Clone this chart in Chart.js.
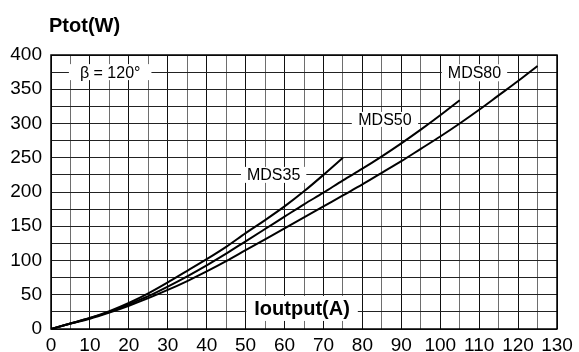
<!DOCTYPE html>
<html><head><meta charset="utf-8">
<script src="https://cdn.jsdelivr.net/npm/chart.js@4.4.1/dist/chart.umd.min.js"></script>
<style>html,body{margin:0;padding:0;background:#fff}canvas{display:block}</style>
</head><body>
<canvas id="c" width="579" height="352"></canvas>
<script>
// ---- data ----
const currentA = [0,5,10,15,20,25,30,35,40,45,50,55,60,65,70,75,80,85,90,95,100,105,110,115,120,125];
const seriesNames = ['MDS35','MDS50','MDS80'];
const mds35 = [0,8,16,26,38,52,68,85,102,120,140,159,179,201,225,250];
const mds50 = [0,8,16,25,36,48,62,77,93,110,128,146,164,182,199,217,234,252,271,291,312,334];
const mds80 = [0,8,15,24,34,45,57,70,84,99,115,131,147,163,179,195,211,228,245,263,281,300,320,341,362,384];
const xTickLabels = [0,10,20,30,40,50,60,70,80,90,100,110,120,130];
const yTickLabels = [0,50,100,150,200,250,300,350,400];
const yTitle = 'Ptot(W)';
const xTitle = 'Ioutput(A)';
const angleNote = 'β = 120°';

const FONT = '"Liberation Sans", Arial, Helvetica, sans-serif';
Chart.defaults.font.family = FONT;
Chart.defaults.color = '#000';

function pts(vals){ return vals.map((v,i)=>({x: currentA[i], y: v})); }

// label placements (data coordinates)
const notes = [
  {text: angleNote, x: 15.2, y: 375, h: 16, padX: 11, font: '16px ' + FONT},
  {text: seriesNames[2], x: 108.8, y: 374, h: 17, padX: 6, font: '16px ' + FONT},
  {text: seriesNames[1], x: 85.8, y: 306, h: 15, padX: 6.5, font: '16px ' + FONT},
  {text: seriesNames[0], x: 57.2, y: 225, h: 16, padX: 6, font: '16px ' + FONT},
  {text: xTitle, x: 64.5, y: 30, h: 25, padX: 8, font: 'bold 20px ' + FONT}
];

const overlay = {
  id: 'overlay',
  afterDatasetsDraw(chart){
    const {ctx, chartArea: a, scales: {x, y}} = chart;
    ctx.save();
    notes.forEach(n => {
      ctx.font = n.font;
      const w = ctx.measureText(n.text).width;
      const cx = x.getPixelForValue(n.x), cy = y.getPixelForValue(n.y);
      ctx.fillStyle = '#fff';
      ctx.fillRect(cx - w/2 - n.padX, cy - n.h/2, w + 2*n.padX, n.h);
      ctx.fillStyle = '#000';
      ctx.textAlign = 'center';
      ctx.textBaseline = 'middle';
      ctx.fillText(n.text, cx, cy + 1);
    });
    ctx.strokeStyle = '#000';
    ctx.lineWidth = 1.5;
    ctx.strokeRect(a.left, a.top, a.right - a.left, a.bottom - a.top);
    ctx.font = 'bold 20px ' + FONT;
    ctx.textAlign = 'left';
    ctx.textBaseline = 'alphabetic';
    ctx.fillStyle = '#000';
    ctx.fillText(yTitle, a.left - 2, a.top - 23);
    ctx.restore();
  }
};

const mk = (label, vals) => ({
  label, data: pts(vals), borderColor: '#000', borderWidth: 2,
  pointRadius: 0, fill: false, cubicInterpolationMode: 'monotone'
});

new Chart(document.getElementById('c'), {
  type: 'line',
  data: { datasets: [mk(seriesNames[0], mds35), mk(seriesNames[1], mds50), mk(seriesNames[2], mds80)] },
  options: {
    responsive: false, animation: false, devicePixelRatio: 1,
    layout: { padding: { left: 0, right: 22, top: 55, bottom: 0 } },
    plugins: { legend: { display: false }, tooltip: { enabled: false }, title: { display: false } },
    scales: {
      x: {
        type: 'linear', min: 0, max: 130,
        afterFit: s => { s.height = 23; },
        border: { display: false },
        grid: { drawTicks: false, lineWidth: 1,
          color: c => (c.tick && c.tick.value % 10 === 0) ? '#111' : '#6e6e6e' },
        ticks: { stepSize: 5, autoSkip: false, maxRotation: 0, padding: 5,
          font: { size: 19 }, color: '#000',
          callback: v => xTickLabels.includes(v) ? String(v) : '' }
      },
      y: {
        type: 'linear', min: 0, max: 400,
        afterFit: s => { s.width = 51; },
        border: { display: false },
        grid: { drawTicks: false, lineWidth: 1, color: '#222' },
        ticks: { stepSize: 25, autoSkip: false, padding: 9,
          font: { size: 19 }, color: '#000',
          callback: v => yTickLabels.includes(v) ? String(v) : '' }
      }
    }
  },
  plugins: [overlay]
});
</script>
</body></html>
